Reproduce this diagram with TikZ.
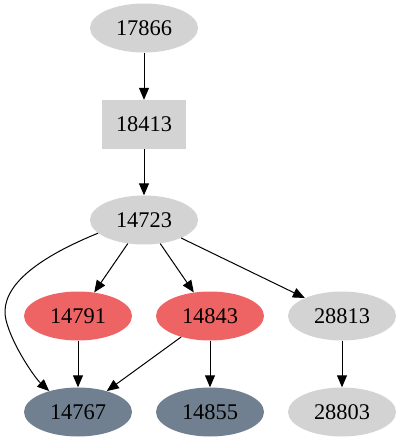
\documentclass[tikz,border=0pt]{standalone}
\usepackage{fontspec}
\setmainfont{Liberation Serif}
\usetikzlibrary{arrows.meta,shapes.geometric}
\definecolor{lgray}{HTML}{D3D3D3}
\definecolor{lred}{HTML}{EE6363}
\definecolor{slate}{HTML}{708090}
\begin{document}
\begin{tikzpicture}[x=1pt,y=-1pt,
  el/.style={ellipse,draw=none,fill=#1,minimum width=108pt,minimum height=49pt,inner sep=0pt,font=\fontsize{22.4}{25}\selectfont},
  bx/.style={rectangle,draw=none,fill=lgray,minimum width=84pt,minimum height=49pt,inner sep=0pt,font=\fontsize{22.4}{25}\selectfont},
  edge/.style={draw=black,line width=1pt,-{Triangle[length=12pt,width=10pt]}}]
\useasboundingbox (0,0) rectangle (401,443);
\node[el=lgray] (n17866) at (144,28) {17866};
\node[bx] (n18413) at (144,124.5) {18413};
\node[el=lgray] (n14723) at (144,220) {14723};
\node[el=lred] (n14791) at (78,316) {14791};
\node[el=lred] (n14843) at (210,316) {14843};
\node[el=lgray] (n28813) at (342,316) {28813};
\node[el=slate] (n14767) at (78,412) {14767};
\node[el=slate] (n14855) at (210,412) {14855};
\node[el=lgray] (n28803) at (342,412) {28803};
\draw[edge] (n17866) -- (n18413);
\draw[edge] (n18413) -- (n14723);
\draw[edge] (n14723) -- (n14791);
\draw[edge] (n14723) -- (n14843);
\draw[edge] (n14723) -- (n28813);
\draw[edge] (n14723.196) .. controls (20,265) and (0,295) .. (6,320) .. controls (12,345) and (35,378) .. (n14767.144);
\draw[edge] (n14791) -- (n14767);
\draw[edge] (n14843) -- (n14767);
\draw[edge] (n14843) -- (n14855);
\draw[edge] (n28813) -- (n28803);
\end{tikzpicture}
\end{document}
